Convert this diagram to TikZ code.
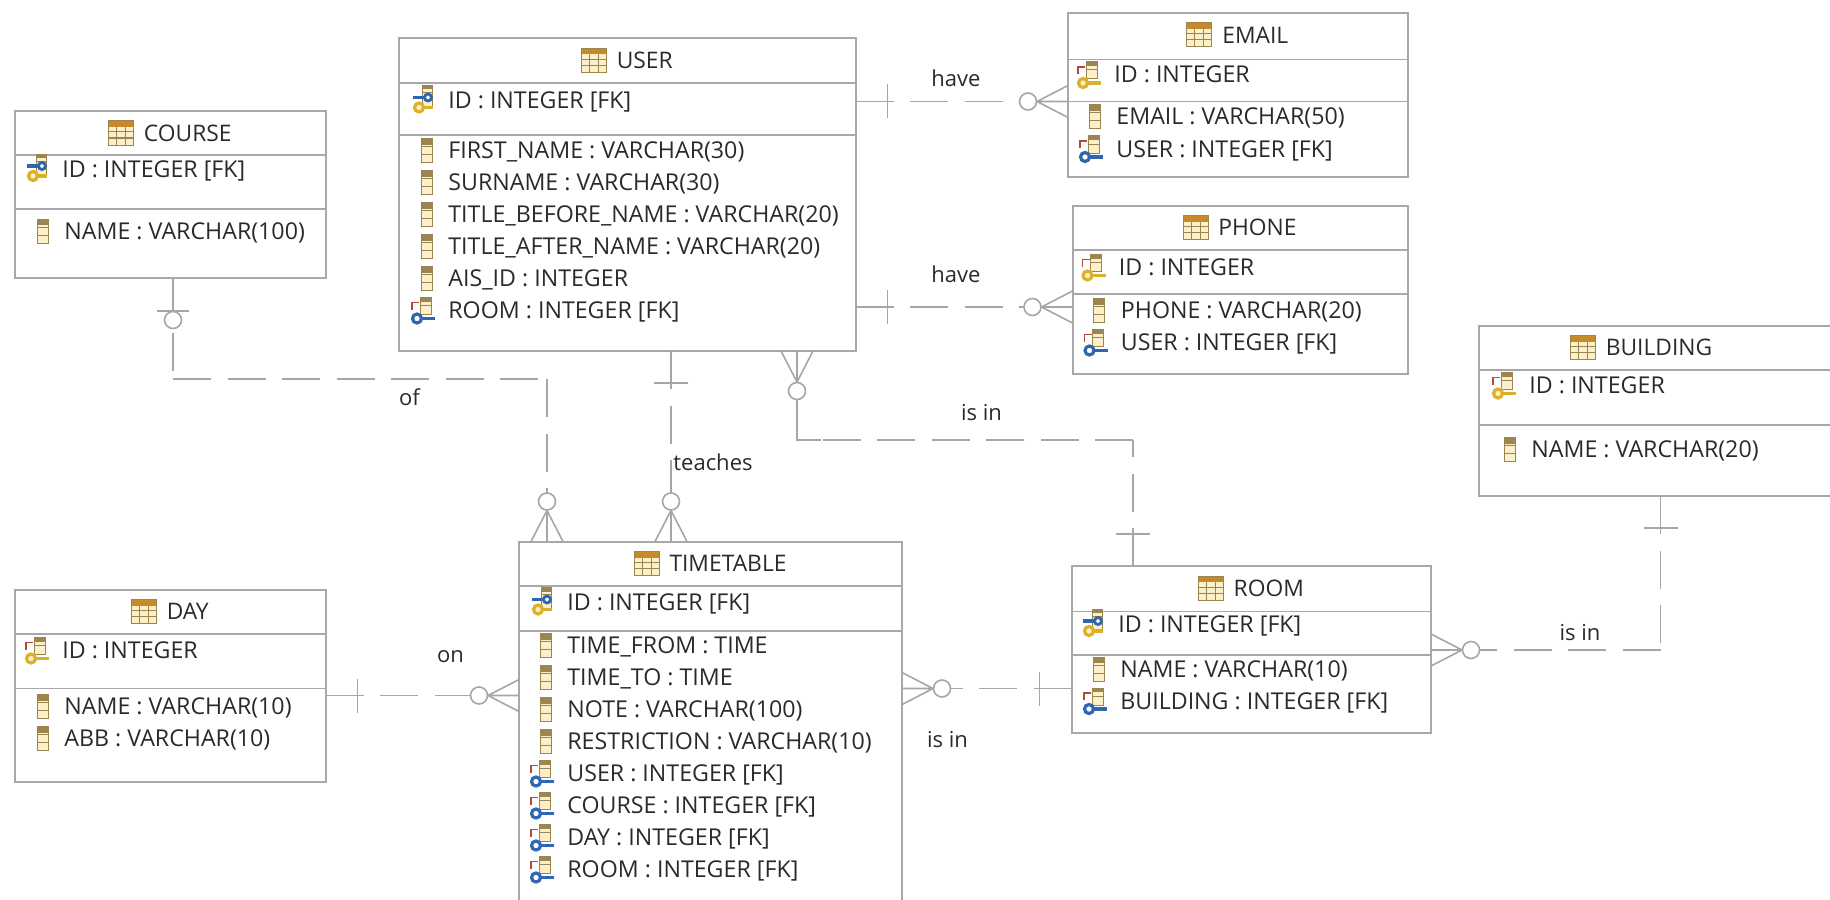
\documentclass[tikz,border=0pt]{standalone}
\usepackage{fontspec}
\setmainfont{Open Sans}
\usepackage{xcolor}
\usepackage{tikz}
\usetikzlibrary{positioning,calc}
\definecolor{tblline}{HTML}{A8A8A8}
\definecolor{relgray}{HTML}{A6A6A6}
\definecolor{tblink}{HTML}{2A2A2A}
\definecolor{iconframe}{HTML}{9C8650}
\definecolor{iconhead}{HTML}{C8892B}
\definecolor{iconfill}{HTML}{FBF0C8}
\definecolor{keygold}{HTML}{DDB02A}
\definecolor{keyblue}{HTML}{2F66AE}
\definecolor{arrowred}{HTML}{B5483C}

\tikzset{
  tblbox/.style={draw=tblline, line width=1pt, outer sep=0pt, inner sep=0pt},
  sepline/.style={draw=tblline, line width=0.9pt},
  tbltitle/.style={font=\fontsize{11.4}{13}\selectfont, text=tblink, inner sep=0pt},
  tblrow/.style={font=\fontsize{11.6}{13}\selectfont, text=tblink, inner sep=0pt,
    anchor=west, text height=10pt, text depth=2pt},
  rellabel/.style={font=\fontsize{11}{13}\selectfont, text=tblink, inner sep=0pt},
  relline/.style={draw=relgray, line width=0.8pt, dash pattern=on 19pt off 8.25pt},
  relsolid/.style={draw=relgray, line width=0.8pt},
  cellbit/.style={draw=iconframe, line width=0.5pt, fill=iconfill},
  pics/onemark/.style={code={
    \draw[relsolid] (0,0) -- (38,0) (32,-17) -- (32,17);
  }},
  pics/zeromark/.style={code={
    \draw[relsolid] (0,0) -- (33,0) (33,-16) -- (33,16);
    \draw[relsolid, fill=white] (42,0) circle (8.5);
  }},
  pics/manymark/.style={code={
    \draw[relsolid] (0,-16) -- (31,0) -- (0,16) (0,0) -- (31,0);
    \draw[relsolid, fill=white] (40,0) circle (8.5);
  }},
  pics/tblicon/.style={code={
    \fill[iconfill] (-35,-12) rectangle (-10,12);
    \fill[iconhead] (-35,-12) rectangle (-10,-6);
    \draw[iconframe, line width=0.5pt] (-35,-12) rectangle (-10,12)
      (-35,-1) -- (-10,-1) (-35,5) -- (-10,5)
      (-27,-6) -- (-27,12) (-18,-6) -- (-18,12);
  }},
  pics/col/.style={code={
    \draw[cellbit] (-27,-12) rectangle (-16,12) (-27,-4) -- (-16,-4) (-27,4) -- (-16,4);
    \fill[iconframe] (-27,-12) rectangle (-16,-6);
  }},
  pics/pk/.style={code={
    \draw[cellbit] (-28,-13) rectangle (-17,4) (-28,-5) -- (-17,-5);
    \fill[iconframe] (-28,-13) rectangle (-17,-9);
    \draw[arrowred, line width=0.9pt] (-36,-1) -- (-36,-8) -- (-29,-8);
    \draw[keygold, line width=1.6pt] (-27,8) -- (-13,8);
    \draw[keygold, line width=1.6pt, fill=iconfill] (-31,8) circle (4.5);
  }},
  pics/fk/.style={code={
    \draw[cellbit] (-28,-13) rectangle (-17,4) (-28,-5) -- (-17,-5);
    \fill[iconframe] (-28,-13) rectangle (-17,-9);
    \draw[arrowred, line width=0.9pt] (-36,-1) -- (-36,-8) -- (-29,-8);
    \draw[keyblue, line width=1.6pt] (-27,8) -- (-13,8);
    \draw[keyblue, line width=1.6pt, fill=white] (-31,8) circle (4.5);
  }},
  pics/pf/.style={code={
    \draw[cellbit] (-26,-15) rectangle (-16,6) (-26,-8) -- (-16,-8);
    \fill[iconframe] (-26,-15) rectangle (-16,-11);
    \draw[keygold, line width=1.6pt] (-25,7) -- (-15,7);
    \draw[keygold, line width=1.6pt, fill=iconfill] (-29,7) circle (4.5);
    \draw[keyblue, line width=1.6pt] (-35,-3) -- (-23,-3);
    \draw[keyblue, line width=1.4pt, fill=white] (-20,-3) circle (3.5);
  }},
}

% sep lines, title and icon of one table
\newcommand{\dbhead}[5][0]{
  \draw[sepline] ($(#2.north west)+(0,#4)$) -- ($(#2.north east)+(0,#4)$);
  \draw[sepline] ($(#2.north west)+(0,#5)$) -- ($(#2.north east)+(0,#5)$);
  \node[tbltitle] (#2-title) at ($(#2.north)+(17.5+#1,22)$) {#3};
  \pic at (#2-title.west) {tblicon};
}
% one compartment of rows: table, text x, y of first row, icon/text list
\newcommand{\dbrows}[4]{
  \foreach \ic/\txt [count=\n] in {#4}{
    \node[tblrow] (#1-#3-\n) at ($(#1.north west)+(#2,#3+32*\n-32)$) {\txt};
    \pic at (#1-#3-\n.west) {\ic};
  }
}

\begin{document}
\begin{tikzpicture}[x=0.5pt, y=-0.5pt]
  \useasboundingbox (0,0) rectangle (1830,899);
  \clip (0,0) rectangle (1830,899);

  \node[tblbox, anchor=north west, minimum width=228.25pt, minimum height=156.25pt] (user) at (399,38.5) {};
  \node[tblbox, minimum width=169.75pt, minimum height=82pt,
    below right=-12.75pt and 106.25pt of user.north east] (email) {};
  \node[tblbox, minimum width=167.5pt, minimum height=84pt,
    below right=14.25pt and 2.25pt of email.south west] (phone) {};
  \node[tblbox, minimum width=155.25pt, minimum height=83.5pt,
    below left=36.25pt and 36.75pt of user.north west] (course) {};
  \node[tblbox, minimum width=191.5pt, minimum height=200pt,
    below right=95.25pt and 60pt of user.south west] (timetable) {};
  \node[tblbox, minimum width=155.25pt, minimum height=96pt,
    below left=24pt and 96.75pt of timetable.north west] (day) {};
  \node[tblbox, minimum width=179.75pt, minimum height=83.5pt,
    below right=12.25pt and 84.75pt of timetable.north east] (room) {};
  \node[tblbox, minimum width=185pt, minimum height=85.25pt,
    above right=35pt and 24pt of room.north east] (building) {};

  \dbhead{user}{USER}{44.5}{96.5}
  \dbrows{user}{49}{62}{pf/ID : INTEGER [FK]}
  \dbrows{user}{49}{112}{col/FIRST\_NAME : VARCHAR(30), col/SURNAME : VARCHAR(30),
    col/TITLE\_BEFORE\_NAME : VARCHAR(20), col/TITLE\_AFTER\_NAME : VARCHAR(20),
    col/AIS\_ID : INTEGER, fk/ROOM : INTEGER [FK]}

  \dbhead{email}{EMAIL}{46.5}{88.5}
  \dbrows{email}{46}{62}{pk/ID : INTEGER}
  \dbrows{email}{48}{104}{col/EMAIL : VARCHAR(50), fk/USER : INTEGER [FK]}

  \dbhead{phone}{PHONE}{44.5}{88.5}
  \dbrows{phone}{46}{62}{pk/ID : INTEGER}
  \dbrows{phone}{48}{105}{col/PHONE : VARCHAR(20), fk/USER : INTEGER [FK]}

  \dbhead{course}{COURSE}{44}{98}
  \dbrows{course}{47}{58}{pf/ID : INTEGER [FK]}
  \dbrows{course}{49}{120}{col/NAME : VARCHAR(100)}

  \dbhead{timetable}{TIMETABLE}{44.5}{89.5}
  \dbrows{timetable}{48}{61}{pf/ID : INTEGER [FK]}
  \dbrows{timetable}{48}{104}{col/TIME\_FROM : TIME, col/TIME\_TO : TIME, col/NOTE : VARCHAR(100),
    col/RESTRICTION : VARCHAR(10), fk/USER : INTEGER [FK], fk/COURSE : INTEGER [FK],
    fk/DAY : INTEGER [FK], fk/ROOM : INTEGER [FK]}

  \dbhead{day}{DAY}{44.5}{99}
  \dbrows{day}{47}{61}{pk/ID : INTEGER}
  \dbrows{day}{49}{117}{col/NAME : VARCHAR(10), col/ABB : VARCHAR(10)}

  \dbhead{room}{ROOM}{45.5}{89}
  \dbrows{room}{46.5}{58}{pf/ID : INTEGER [FK]}
  \dbrows{room}{48.5}{103}{col/NAME : VARCHAR(10), fk/BUILDING : INTEGER [FK]}

  \dbhead[-22.5]{building}{BUILDING}{44.5}{99.5}
  \dbrows{building}{50}{60}{pk/ID : INTEGER}
  \dbrows{building}{52}{124}{col/NAME : VARCHAR(20)}

  % user - email, user - phone
  \coordinate (ue) at ($(user.north east)+(0,63)$);
  \coordinate (up) at ($(user.north east)+(0,268.5)$);
  \draw[relline] (ue) -- (ue -| email.west);
  \draw[relline] (up) -- (up -| phone.west);
  \pic at (ue) {onemark};
  \pic at (up) {onemark};
  \pic[rotate=180] at (ue -| email.west) {manymark};
  \pic[rotate=180] at (up -| phone.west) {manymark};
  \node[rellabel] (have1) at (956,78) {have};
  \node[rellabel] (have2) at (956,274) {have};

  % course - timetable
  \coordinate (cs) at ($(course.south west)+(158,0)$);
  \coordinate (ct) at ($(timetable.north west)+(28,0)$);
  \coordinate (cc) at (cs |- 0,379);
  \draw[relline] (cs) -- (cc) (cc) -- (cc -| ct) (cc -| ct) -- (ct);
  \pic[rotate=-90] at (cs) {zeromark};
  \pic[rotate=90] at (ct) {manymark};
  \node[rellabel] (of) at (409.5,397) {of};

  % user - timetable
  \coordinate (us) at ($(user.south west)+(272,0)$);
  \draw[relline] (us) -- (us |- timetable.north);
  \pic[rotate=-90] at (us) {onemark};
  \pic[rotate=90] at (us |- timetable.north) {manymark};
  \node[rellabel] (teaches) at (713,462) {teaches};

  % user - room
  \coordinate (um) at ($(user.south west)+(398,0)$);
  \coordinate (rt) at ($(room.north west)+(61.5,0)$);
  \coordinate (uc) at (um |- 0,440);
  \draw[relsolid] (um) -- (uc) -- ($(uc)+(24,0)$);
  \draw[relline] (rt) -- (rt |- uc) (rt |- uc) -- (uc);
  \pic[rotate=-90] at (um) {manymark};
  \pic[rotate=90] at (rt) {onemark};
  \node[rellabel] (isin1) at (981.5,413) {is in};

  % day - timetable
  \coordinate (dt) at ($(day.north east)+(0,106)$);
  \draw[relline] (dt) -- (dt -| timetable.west);
  \pic at (dt) {onemark};
  \pic[rotate=180] at (dt -| timetable.west) {manymark};
  \node[rellabel] (on) at (450.5,657) {on};

  % timetable - room
  \coordinate (tr) at ($(timetable.north east)+(0,147)$);
  \draw[relline] (tr -| room.west) -- (tr);
  \pic[rotate=180] at (tr -| room.west) {onemark};
  \pic at (tr) {manymark};
  \node[rellabel] (isin2) at (947.5,740) {is in};

  % room - building
  \coordinate (bs) at ($(building.south west)+(181.5,0)$);
  \coordinate (rb) at ($(room.north east)+(0,84)$);
  \draw[relline] (bs) -- (bs |- rb) (bs |- rb) -- (rb);
  \pic[rotate=-90] at (bs) {onemark};
  \pic at (rb) {manymark};
  \node[rellabel] (isin3) at (1580,632.5) {is in};
\end{tikzpicture}
\end{document}
